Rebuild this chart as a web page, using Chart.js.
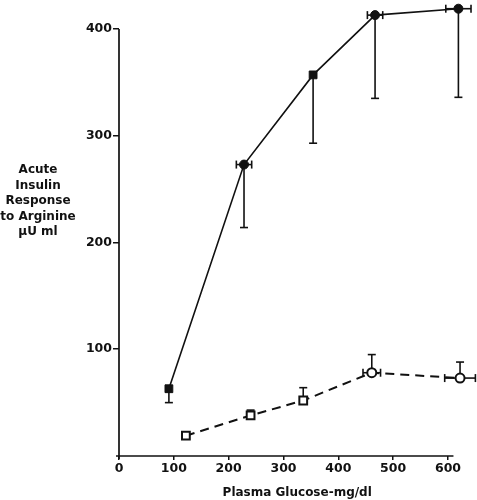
<!DOCTYPE html>
<html><head><meta charset="utf-8">
<script src="https://cdn.jsdelivr.net/npm/chart.js@4"></script>
<style>html,body{margin:0;padding:0;background:#fff}#wrap{width:477px;height:500px}</style>
</head><body><div id="wrap"><canvas id="c" width="477" height="500"></canvas></div>
<script>
const xTicks=[0,100,200,300,400,500,600];
const yTicks=[100,200,300,400];
const xAxisEnd=610;
const yAxisEnd=400;
const yTitleLines=["Acute","Insulin","Response","to Arginine","µU ml"];
const xTitle="Plasma Glucose-mg/dl";
const solidX=[91,228,354,467,619];
const solidY=[63,273,357,413,419];
const solidYErr=[13,59,64,78,83];   // drawn downward
const solidXErr=[0,14,0,14,23];
const openX=[122,240,336,461,622];
const openY=[19,38,52,78,73];
const openYErr=[0,5,12,17,15];      // drawn upward
const openXErr=[0,0,0,16,28];
const solidStyles=['rect','circle','rect','circle','circle'];
const openStyles=['rect','rect','rect','circle','circle'];

const INK='#111';
const FONT='"DejaVu Sans", sans-serif';

const axes={id:'axes',beforeDatasetsDraw(chart){
  const {ctx,scales:{x,y}}=chart;
  ctx.save();ctx.strokeStyle=INK;ctx.lineWidth=1.7;
  const x0=x.getPixelForValue(0),y0=y.getPixelForValue(0);
  ctx.beginPath();
  ctx.moveTo(x0,y.getPixelForValue(yAxisEnd));ctx.lineTo(x0,y0+3);
  ctx.moveTo(x0-3,y0);ctx.lineTo(x.getPixelForValue(xAxisEnd),y0);
  ctx.stroke();ctx.restore();
}};

const errorBars={id:'errorBars',beforeDatasetsDraw(chart){
  const {ctx,scales:{x,y}}=chart;
  ctx.save();ctx.strokeStyle=INK;ctx.lineWidth=1.6;
  const seg=(a,b,c,d)=>{ctx.beginPath();ctx.moveTo(a,b);ctx.lineTo(c,d);ctx.stroke();};
  function draw(xs,ys,yerr,xerr,dir){
    xs.forEach((v,i)=>{
      const px=x.getPixelForValue(v),py=y.getPixelForValue(ys[i]);
      if(yerr[i]>0){const pe=y.getPixelForValue(ys[i]+dir*yerr[i]);seg(px,py,px,pe);seg(px-4,pe,px+4,pe);}
      if(xerr[i]>0){const pl=x.getPixelForValue(v-xerr[i]),pr=x.getPixelForValue(v+xerr[i]);
        seg(pl,py,pr,py);seg(pl,py-4,pl,py+4);seg(pr,py-4,pr,py+4);}
    });
  }
  draw(solidX,solidY,solidYErr,solidXErr,-1);
  draw(openX,openY,openYErr,openXErr,1);
  ctx.restore();
}};

const yTitle={id:'yTitle',afterDraw(chart){
  const ctx=chart.ctx;ctx.save();ctx.fillStyle=INK;ctx.font='bold 12px '+FONT;
  ctx.textAlign='center';ctx.textBaseline='middle';
  yTitleLines.forEach((t,i)=>ctx.fillText(t,38,170+i*15.5));
  ctx.restore();
}};

new Chart(document.getElementById('c'),{
  type:'line',
  data:{datasets:[
    {data:solidX.map((v,i)=>({x:v,y:solidY[i]})),borderColor:INK,borderWidth:1.6,
     pointStyle:solidStyles,pointRadius:solidStyles.map(s=>s==='rect'?5.5:4.5),
     pointBackgroundColor:INK,pointBorderColor:INK,pointBorderWidth:1,tension:0},
    {data:openX.map((v,i)=>({x:v,y:openY[i]})),borderColor:INK,borderWidth:2,borderDash:[9,6],
     pointStyle:openStyles,pointRadius:openStyles.map(s=>s==='rect'?5.5:4.5),
     pointBackgroundColor:'#fff',pointBorderColor:INK,pointBorderWidth:2,tension:0}
  ]},
  options:{
    responsive:false,animation:false,devicePixelRatio:1,
    layout:{autoPadding:false,padding:{top:2.3,right:1.6,bottom:0,left:0}},
    plugins:{legend:{display:false},tooltip:{enabled:false}},
    scales:{
      x:{type:'linear',min:0,max:650,
        afterBuildTicks:s=>{s.ticks=xTicks.map(v=>({value:v}));},
        afterFit:s=>{s.height=44;s.paddingLeft=0;s.paddingRight=0;},
        grid:{drawOnChartArea:false,drawTicks:true,tickLength:4,color:INK,lineWidth:1.5},
        border:{display:false},
        ticks:{color:INK,font:{family:FONT,size:12.5,weight:'bold'},padding:1,maxRotation:0,autoSkip:false},
        title:{display:true,text:xTitle,color:INK,font:{family:FONT,size:12,weight:'bold'},padding:{top:0,bottom:0},align:'center'}
      },
      y:{type:'linear',min:0,max:425,
        afterBuildTicks:s=>{s.ticks=yTicks.map(v=>({value:v}));},
        afterFit:s=>{s.width=119;s.paddingTop=0;s.paddingBottom=0;},
        grid:{drawOnChartArea:false,drawTicks:true,tickLength:6,color:INK,lineWidth:1.5},
        border:{display:false},
        ticks:{color:INK,font:{family:FONT,size:12.5,weight:'bold'},padding:1,autoSkip:false}
      }
    }
  },
  plugins:[axes,errorBars,yTitle]
});
</script></body></html>
